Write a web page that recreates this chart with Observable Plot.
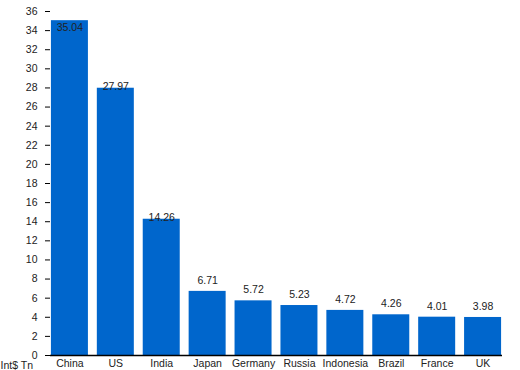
<!DOCTYPE html>
<html><head><meta charset="utf-8">
<script src="https://cdn.jsdelivr.net/npm/d3@7"></script>
<script src="https://cdn.jsdelivr.net/npm/@observablehq/plot@0.6"></script>
<style>body{margin:0;background:#fff;font-family:"Liberation Sans",Arial,sans-serif;}</style>
</head><body><div id="chart"></div>
<script>
const countries = ["China","US","India","Japan","Germany","Russia","Indonesia","Brazil","France","UK"];
const values = [35.04,27.97,14.26,6.71,5.72,5.23,4.72,4.26,4.01,3.98];
const yTicks = d3.range(0, 37, 2);
const unitLabel = "Int$ Tn";
const data = countries.map((c,i)=>({country:c, value:values[i]}));
const fmt = d3.format(".2f");
const fs = 10.5;
const chart = Plot.plot({
  width: 520, height: 370,
  marginLeft: 50, marginRight: 18, marginTop: 11, marginBottom: 15,
  style: {fontFamily: '"Liberation Sans", Arial, sans-serif', fontSize: fs + "px", color: "#000", background: "#fff"},
  x: {domain: countries, paddingInner: 0.194, paddingOuter: 0.02, round: false},
  y: {domain: [0,36]},
  marks: [
    Plot.barY(data, {x:"country", y:"value", fill:"#0066cc"}),
    Plot.axisX({tickSize: 0, tickPadding: 4, label: null, fill:"#222"}),
    Plot.axisY({ticks: yTicks, tickSize: 5, tickPadding: 8, label: null, fill:"#222", stroke:"#000", strokeOpacity:1}),
    Plot.text(data.filter(d=>d.value<10), {x:"country", y:"value", text:d=>fmt(d.value), dy:-11, fill:"#222", fontSize:fs}),
    Plot.text(data.filter(d=>d.value>=10 && d.value<30), {x:"country", y:"value", text:d=>fmt(d.value), dy:-1.5, fill:"#222", fontSize:fs}),
    Plot.text(data.filter(d=>d.value>=30), {x:"country", y:"value", text:d=>fmt(d.value), dy:7, fill:"#222", fontSize:fs}),
    Plot.ruleX([0], {frameAnchor:"left", stroke:"#000", strokeWidth:1.5}),
    Plot.ruleY([0], {stroke:"#000", strokeWidth:1.5}),
    Plot.text([unitLabel], {frameAnchor:"bottom-left", dx:-50, dy:10, lineAnchor:"middle", textAnchor:"start", fill:"#222", fontSize:fs})
  ]
});
document.getElementById("chart").appendChild(chart);
</script></body></html>
